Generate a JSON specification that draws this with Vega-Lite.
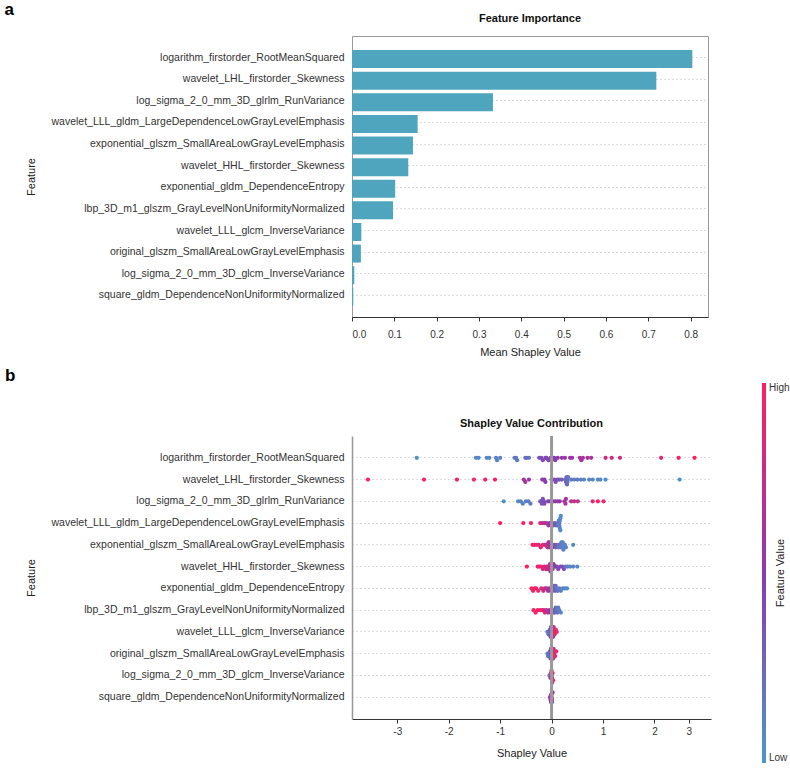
{
  "$schema": "https://vega.github.io/schema/vega-lite/v6.json",
  "padding": {"left": 4, "top": 0, "right": 0, "bottom": 0},
  "background": "white",
  "config": {
    "font": "Liberation Sans",
    "view": {"stroke": null},
    "axis": {"labelFontSize": 10, "labelColor": "#333", "titleFontSize": 11, "titleFontWeight": "normal", "titleColor": "#222", "tickColor": "#333", "domainColor": "#333", "tickSize": 4},
    "title": {"color": "#111", "fontSize": 11, "fontWeight": "bold"}
  },
  "datasets": {
    "imp": [
      {"feature": "logarithm_firstorder_RootMeanSquared", "imp": 0.804},
      {"feature": "wavelet_LHL_firstorder_Skewness", "imp": 0.719},
      {"feature": "log_sigma_2_0_mm_3D_glrlm_RunVariance", "imp": 0.333},
      {"feature": "wavelet_LLL_gldm_LargeDependenceLowGrayLevelEmphasis", "imp": 0.155},
      {"feature": "exponential_glszm_SmallAreaLowGrayLevelEmphasis", "imp": 0.144},
      {"feature": "wavelet_HHL_firstorder_Skewness", "imp": 0.133},
      {"feature": "exponential_gldm_DependenceEntropy", "imp": 0.102},
      {"feature": "lbp_3D_m1_glszm_GrayLevelNonUniformityNormalized", "imp": 0.097},
      {"feature": "wavelet_LLL_glcm_InverseVariance", "imp": 0.022},
      {"feature": "original_glszm_SmallAreaLowGrayLevelEmphasis", "imp": 0.021},
      {"feature": "log_sigma_2_0_mm_3D_glcm_InverseVariance", "imp": 0.0055},
      {"feature": "square_gldm_DependenceNonUniformityNormalized", "imp": 0.003}
    ],
    "shap": [
      {"f": "logarithm_firstorder_RootMeanSquared",
       "s": [-2.62,-1.47,-1.42,-1.26,-1.21,-1.08,-1.06,-1.0,-0.72,-0.69,-0.67,-0.51,-0.48,-0.44,-0.24,-0.2,-0.17,-0.12,-0.1,-0.06,-0.02,0.02,0.05,0.07,0.12,0.2,0.26,0.36,0.4,0.55,0.58,0.61,0.7,0.77,1.05,1.17,1.33,2.13,2.47,2.78],
       "v": [0.05,0.08,0.1,0.08,0.1,0.12,0.1,0.12,0.15,0.18,0.16,0.2,0.22,0.2,0.35,0.38,0.4,0.42,0.45,0.45,0.48,0.5,0.5,0.52,0.52,0.55,0.55,0.57,0.57,0.6,0.6,0.62,0.62,0.65,0.78,0.8,0.8,0.95,0.97,1.0]},
      {"f": "wavelet_LHL_firstorder_Skewness",
       "s": [-3.57,-2.48,-1.84,-1.51,-1.29,-1.1,-0.54,-0.51,-0.44,-0.18,-0.14,-0.12,0.0,0.05,0.08,0.11,0.15,0.2,0.27,0.28,0.29,0.3,0.31,0.32,0.3,0.38,0.44,0.5,0.57,0.63,0.73,0.8,0.9,0.95,1.05,2.49],
       "v": [1.0,0.97,0.95,0.95,0.93,0.93,0.6,0.6,0.58,0.5,0.5,0.48,0.45,0.42,0.4,0.38,0.35,0.32,0.3,0.28,0.25,0.22,0.2,0.2,0.25,0.18,0.15,0.15,0.12,0.12,0.1,0.1,0.08,0.08,0.06,0.03]},
      {"f": "log_sigma_2_0_mm_3D_glrlm_RunVariance",
       "s": [-0.93,-0.65,-0.6,-0.56,-0.5,-0.45,-0.41,-0.22,-0.2,-0.19,-0.17,-0.15,-0.14,-0.07,-0.03,0.03,0.07,0.12,0.16,0.25,0.27,0.28,0.38,0.44,0.51,0.8,0.9,1.01],
       "v": [0.05,0.1,0.1,0.12,0.12,0.15,0.15,0.3,0.32,0.35,0.38,0.4,0.4,0.45,0.48,0.5,0.52,0.55,0.55,0.6,0.62,0.65,0.7,0.72,0.75,0.92,0.95,0.97]},
      {"f": "wavelet_LLL_gldm_LargeDependenceLowGrayLevelEmphasis",
       "s": [-1.0,-0.55,-0.4,-0.22,-0.18,-0.14,-0.1,-0.06,-0.04,0.0,0.03,0.06,0.09,0.12,0.13,0.14,0.15,0.15,0.16,0.16,0.17,0.17,0.18],
       "v": [0.98,0.95,0.93,0.8,0.75,0.7,0.65,0.6,0.55,0.45,0.4,0.35,0.3,0.2,0.18,0.15,0.15,0.12,0.1,0.1,0.08,0.08,0.05]},
      {"f": "exponential_glszm_SmallAreaLowGrayLevelEmphasis",
       "s": [-0.37,-0.33,-0.29,-0.25,-0.21,-0.17,-0.13,-0.1,-0.08,-0.06,-0.05,-0.04,-0.03,0.0,0.02,0.05,0.08,0.1,0.13,0.15,0.17,0.19,0.2,0.21,0.22,0.23,0.26,0.28,0.42],
       "v": [0.95,0.95,0.92,0.9,0.88,0.85,0.8,0.75,0.7,0.68,0.65,0.62,0.6,0.5,0.45,0.4,0.35,0.3,0.2,0.2,0.15,0.15,0.15,0.12,0.1,0.12,0.1,0.1,0.08]},
      {"f": "wavelet_HHL_firstorder_Skewness",
       "s": [-0.48,-0.27,-0.24,-0.2,-0.17,-0.14,-0.11,-0.09,-0.07,-0.05,-0.04,-0.03,-0.02,0.0,0.02,0.04,0.07,0.1,0.13,0.17,0.21,0.24,0.27,0.31,0.36,0.42,0.5],
       "v": [1.0,0.95,0.92,0.9,0.88,0.85,0.8,0.8,0.78,0.75,0.72,0.7,0.68,0.65,0.6,0.55,0.5,0.45,0.45,0.42,0.4,0.4,0.2,0.15,0.12,0.1,0.08]},
      {"f": "exponential_gldm_DependenceEntropy",
       "s": [-0.39,-0.36,-0.33,-0.3,-0.26,-0.2,-0.16,-0.13,-0.1,-0.07,-0.04,-0.02,0.0,0.02,0.04,0.05,0.07,0.08,0.1,0.12,0.15,0.18,0.22,0.26,0.3],
       "v": [1.0,0.98,0.95,0.95,0.92,0.85,0.8,0.75,0.7,0.65,0.6,0.55,0.45,0.4,0.35,0.3,0.3,0.25,0.2,0.2,0.15,0.12,0.1,0.1,0.08]},
      {"f": "lbp_3D_m1_glszm_GrayLevelNonUniformityNormalized",
       "s": [-0.35,-0.31,-0.27,-0.22,-0.18,-0.15,-0.13,-0.1,-0.07,-0.04,-0.02,0.01,0.03,0.05,0.06,0.08,0.1,0.11,0.13,0.15,0.18],
       "v": [1.0,0.97,0.95,0.92,0.9,0.85,0.88,0.7,0.65,0.6,0.55,0.45,0.4,0.35,0.3,0.25,0.2,0.2,0.15,0.12,0.1]},
      {"f": "wavelet_LLL_glcm_InverseVariance",
       "s": [-0.08,-0.06,-0.05,-0.04,-0.03,-0.02,-0.01,0.0,0.01,0.02,0.03,0.04,0.05,0.06,0.08,0.1],
       "v": [0.1,0.15,0.2,0.25,0.3,0.4,0.45,0.5,0.55,0.6,0.7,0.75,0.8,0.85,0.9,0.95]},
      {"f": "original_glszm_SmallAreaLowGrayLevelEmphasis",
       "s": [-0.08,-0.07,-0.05,-0.04,-0.03,-0.02,-0.01,0.0,0.01,0.02,0.03,0.04,0.05,0.07,0.09],
       "v": [0.1,0.12,0.2,0.25,0.3,0.35,0.45,0.5,0.55,0.6,0.7,0.75,0.85,0.9,0.95]},
      {"f": "log_sigma_2_0_mm_3D_glcm_InverseVariance",
       "s": [-0.04,-0.02,-0.01,0.0,0.01,0.02,0.03,0.0,0.01],
       "v": [0.2,0.5,0.7,0.8,0.85,0.9,0.95,0.9,0.75]},
      {"f": "square_gldm_DependenceNonUniformityNormalized",
       "s": [-0.03,-0.02,-0.01,0.0,0.01,0.0,0.01,-0.01,0.02],
       "v": [0.55,0.6,0.65,0.6,0.7,0.75,0.55,0.5,0.6]}
    ]
  },
  "spacing": 8,
  "vconcat": [
    {
      "title": {"text": "a", "anchor": "start", "frame": "bounds", "fontSize": 17, "fontWeight": "bold", "color": "#000", "dx": -20, "offset": -6},
      "vconcat": [
        {
          "width": 356,
          "height": 281,
          "title": {"text": "Feature Importance", "anchor": "middle", "offset": 12},
          "view": {"stroke": "#999"},
          "data": {"name": "imp"},
          "mark": {"type": "bar", "color": "#4ea5bd"},
          "encoding": {
            "y": {
              "field": "feature", "type": "nominal",
              "sort": ["logarithm_firstorder_RootMeanSquared","wavelet_LHL_firstorder_Skewness","log_sigma_2_0_mm_3D_glrlm_RunVariance","wavelet_LLL_gldm_LargeDependenceLowGrayLevelEmphasis","exponential_glszm_SmallAreaLowGrayLevelEmphasis","wavelet_HHL_firstorder_Skewness","exponential_gldm_DependenceEntropy","lbp_3D_m1_glszm_GrayLevelNonUniformityNormalized","wavelet_LLL_glcm_InverseVariance","original_glszm_SmallAreaLowGrayLevelEmphasis","log_sigma_2_0_mm_3D_glcm_InverseVariance","square_gldm_DependenceNonUniformityNormalized"],
              "scale": {"paddingInner": 0.3, "paddingOuter": 0.65},
              "axis": {"title": "Feature", "titleX": -316, "grid": true, "gridDash": [1, 3], "gridColor": "#bbb", "bandPosition": 0.5, "ticks": false, "domain": false, "labelPadding": 8, "labelFontSize": 10.5, "labelLimit": 400}
            },
            "x": {
              "field": "imp", "type": "quantitative",
              "scale": {"domain": [0, 0.841], "nice": false},
              "axis": {"title": "Mean Shapley Value", "values": [0, 0.1, 0.2, 0.3, 0.4, 0.5, 0.6, 0.7, 0.8], "format": ".1f", "grid": false, "labelPadding": 8, "titlePadding": 7}
            }
          }
        }
      ]
    },
    {
      "title": {"text": "b", "anchor": "start", "frame": "bounds", "fontSize": 17, "fontWeight": "bold", "color": "#000", "dx": -20, "offset": 33},
      "vconcat": [
        {
          "width": 359,
          "height": 283,
          "title": {"text": "Shapley Value Contribution", "anchor": "middle", "offset": 6},
          "data": {"name": "shap"},
          "transform": [
            {"flatten": ["s", "v"]},
            {"bin": {"step": 0.05}, "field": "s", "as": "sb"},
            {"window": [{"op": "row_number", "as": "k"}], "groupby": ["f", "sb"]}
          ],
          "layer": [
            {
              "mark": {"type": "circle", "size": 18, "opacity": 1},
              "encoding": {
                "x": {
                  "field": "s", "type": "quantitative",
                  "scale": {"domain": [-3.88, 3.1], "nice": false, "zero": false},
                  "axis": {"title": "Shapley Value", "values": [-3, -2, -1, 0, 1, 2, 2.67], "labelExpr": "datum.value > 2.5 ? '3' : '' + datum.value", "grid": false, "labelPadding": 3, "titlePadding": 11}
                },
                "y": {
                  "field": "f", "type": "nominal",
                  "sort": ["logarithm_firstorder_RootMeanSquared","wavelet_LHL_firstorder_Skewness","log_sigma_2_0_mm_3D_glrlm_RunVariance","wavelet_LLL_gldm_LargeDependenceLowGrayLevelEmphasis","exponential_glszm_SmallAreaLowGrayLevelEmphasis","wavelet_HHL_firstorder_Skewness","exponential_gldm_DependenceEntropy","lbp_3D_m1_glszm_GrayLevelNonUniformityNormalized","wavelet_LLL_glcm_InverseVariance","original_glszm_SmallAreaLowGrayLevelEmphasis","log_sigma_2_0_mm_3D_glcm_InverseVariance","square_gldm_DependenceNonUniformityNormalized"],
                  "scale": {"type": "band", "paddingInner": 0, "paddingOuter": 0.5},
                  "axis": {"title": "Feature", "titleX": -316, "grid": true, "gridDash": [1, 3], "gridColor": "#bbb", "bandPosition": 0.5, "ticks": false, "domain": true, "domainColor": "#999", "domainWidth": 1.5, "labelPadding": 8, "labelFontSize": 10.5, "labelLimit": 400}
                },
                "yOffset": {"field": "k", "type": "ordinal", "scale": {"domain": [9, 7, 5, 3, 1, 2, 4, 6, 8]}},
                "color": {
                  "field": "v", "type": "quantitative",
                  "scale": {"domain": [0, 0.5, 1], "range": ["#4a98cb", "#8c39b0", "#ff2060"], "interpolate": "rgb"},
                  "legend": {
                    "orient": "none", "legendX": 423, "legendY": 347, "padding": 0,
                    "direction": "vertical", "gradientLength": 380, "gradientThickness": 4,
                    "values": [0, 1], "labelExpr": "datum.value >= 1 ? 'High' : 'Low'",
                    "labelFontSize": 10, "labelColor": "#333", "labelBaseline": "middle", "labelOffset": 3,
                    "title": "Feature Value", "titleOrient": "left", "titleAnchor": "middle", "titleFontSize": 11, "titleFontWeight": "normal", "titleColor": "#222", "titlePadding": -25
                  }
                }
              }
            },
            {
              "data": {"values": [{}]},
              "mark": {"type": "rule", "color": "#999", "strokeWidth": 3},
              "encoding": {"x": {"datum": 0}}
            }
          ]
        }
      ]
    }
  ]
}
